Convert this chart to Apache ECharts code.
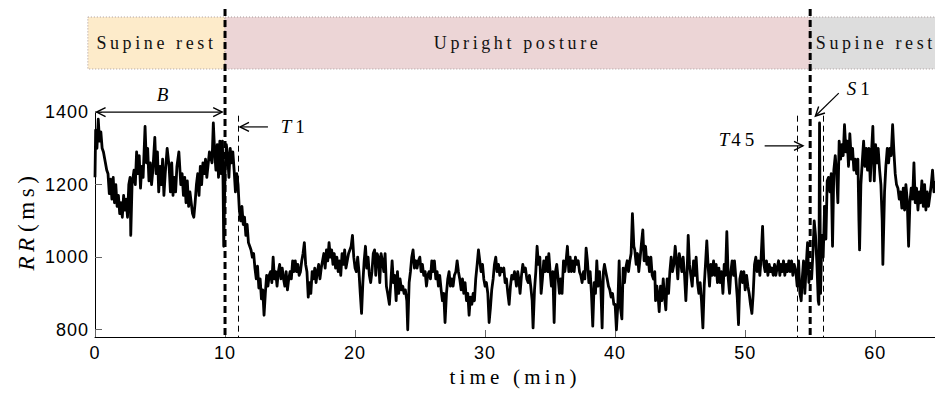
<!DOCTYPE html>
<html lang="en">
<head>
<meta charset="UTF-8">
<title>RR intervals - tilt test</title>
<style>
    html, body { margin: 0; padding: 0; background: #fff; }
    #main { width: 935px; height: 394px; }
    /* the LaTeX figure has wide letter spacing on every text */
    #main text[style*="Liberation Serif"] { letter-spacing: 0.2em; }
    #main text[style*="Liberation Sans"] { letter-spacing: 1px; }
</style>
</head>
<body>
<div id="main"></div>
<script src="https://cdn.jsdelivr.net/npm/echarts@6/dist/echarts.min.js"></script>
<script type="text/javascript">
// RR series: time (min) and RR (ms), same row layout in both arrays
var timeMin = [
    // supine rest
    0, 0.05, 0.15, 0.25, 0.35, 0.45, 0.55, 0.65, 0.8, 0.9,
    1.0, 1.1, 1.2, 1.3, 1.4, 1.5, 1.6, 1.7, 1.8, 1.9,
    2.0, 2.1, 2.2, 2.3, 2.4, 2.5, 2.6, 2.7, 2.75, 2.85,
    3.0, 3.1, 3.2, 3.3, 3.4, 3.5, 3.6, 3.7, 3.85, 3.95,
    4.05, 4.15, 4.25, 4.35, 4.45, 4.6, 4.7, 4.8, 4.9, 5.0,
    5.1, 5.2, 5.3, 5.4, 5.55, 5.7, 5.8, 5.9, 6.0, 6.1,
    6.2, 6.3, 6.45, 6.6, 6.7, 6.8, 6.9, 7.0, 7.1, 7.2,
    7.3, 7.4, 7.5, 7.6, 7.7, 7.8, 7.9, 8.0, 8.1, 8.2,
    8.3, 8.4, 8.5, 8.6, 8.8, 9.0, 9.1, 9.2, 9.3, 9.4,
    9.5, 9.6, 9.7, 9.8, 9.85, 9.9, 10.0, 10.1, 10.2, 10.3,
    10.4, 10.5, 10.6, 10.7, 10.8, 10.9,
    // upright
    11.0, 11.1, 11.2, 11.3, 11.4, 11.5, 11.6, 11.7, 11.8, 11.9,
    12.0, 12.1, 12.2, 12.3, 12.4, 12.5, 12.6, 12.7, 12.8, 12.9,
    13.0, 13.1, 13.2, 13.3, 13.4, 13.5, 13.6, 13.7, 13.8, 13.9,
    14.0, 14.1, 14.2, 14.3, 14.4, 14.5, 14.6, 14.7, 14.8, 14.9,
    15.0, 15.1, 15.2, 15.3, 15.4, 15.5, 15.6, 15.7, 15.8, 15.9,
    16.0, 16.1, 16.2, 16.3, 16.4, 16.5, 16.6, 16.7, 16.8, 16.9,
    17.0, 17.1, 17.2, 17.3, 17.4, 17.5, 17.6, 17.7, 17.8, 17.9,
    18.0, 18.1, 18.2, 18.3, 18.4, 18.5, 18.6, 18.7, 18.8, 18.9,
    19.0, 19.1, 19.2, 19.3, 19.4, 19.5, 19.6, 19.7, 19.8, 19.9,
    20.0, 20.1, 20.2, 20.3, 20.4, 20.5, 20.6, 20.7, 20.8, 20.9,
    21.0, 21.1, 21.2, 21.3, 21.4, 21.5,
    21.54, 21.59, 21.69, 21.80, 21.90, 22.00, 22.10, 22.21, 22.31, 22.41,
    22.51, 22.64, 22.75, 22.85, 22.95, 23.05, 23.16, 23.26, 23.36, 23.46,
    23.57, 23.67, 23.77, 23.87, 23.98, 24.05, 24.16, 24.26, 24.36, 24.46,
    24.57, 24.67, 24.77, 24.87, 24.98, 25.08, 25.18, 25.28, 25.39, 25.49,
    25.59, 25.69, 25.80, 25.90, 26.00, 26.10, 26.21, 26.31, 26.41, 26.51,
    26.62, 26.72, 26.82, 26.92, 27.03, 27.13, 27.23, 27.33, 27.44, 27.54,
    27.64, 27.75, 27.85, 27.95, 28.05, 28.16, 28.26, 28.36, 28.46, 28.57,
    28.67, 28.77, 28.87, 28.98, 29.08, 29.18, 29.28, 29.39, 29.49, 29.59,
    29.69, 29.80, 29.90, 30.00, 30.10, 30.21, 30.31, 30.41, 30.51, 30.62,
    30.72, 30.82, 30.92, 31.03, 31.13, 31.23, 31.33, 31.44, 31.54, 31.64,
    31.75, 31.85, 31.95, 32.05, 32.16, 32.26,
    32.31, 32.41, 32.51, 32.59, 32.69, 32.80, 32.90, 33.00, 33.10, 33.21,
    33.31, 33.41, 33.51, 33.62, 33.69, 33.80, 33.90, 34.00, 34.10, 34.21,
    34.31, 34.41, 34.51, 34.62, 34.72, 34.82, 34.90, 35.00, 35.10, 35.21,
    35.31, 35.41, 35.51, 35.62, 35.72, 35.82, 35.92, 36.03, 36.13, 36.23,
    36.33, 36.44, 36.54, 36.64, 36.75, 36.85, 36.95, 37.05, 37.16, 37.26,
    37.36, 37.46, 37.57, 37.67, 37.77, 37.87, 37.98, 38.08, 38.18, 38.28,
    38.39, 38.49, 38.59, 38.69, 38.80, 38.90, 39.00, 39.10, 39.18, 39.28,
    39.39, 39.49, 39.59, 39.69, 39.80, 39.90, 40.00, 40.10, 40.21, 40.31,
    40.41, 40.52, 40.62, 40.72, 40.82, 40.93, 41.03, 41.13, 41.23, 41.33,
    41.44, 41.51, 41.62, 41.72, 41.82, 41.93, 42.03, 42.13, 42.23, 42.34,
    42.44, 42.54, 42.64, 42.75, 42.85, 42.95, 43.05,
    43.11, 43.21, 43.31, 43.39, 43.49, 43.59, 43.70, 43.80, 43.90, 44.00,
    44.11, 44.21, 44.31, 44.41, 44.52, 44.62, 44.72, 44.82, 44.93, 45.03,
    45.13, 45.23, 45.34, 45.44, 45.54, 45.62, 45.72, 45.82, 45.93, 46.03,
    46.13, 46.23, 46.34, 46.44, 46.54, 46.64, 46.75, 46.85, 46.95, 47.05,
    47.16, 47.26, 47.36, 47.46, 47.57, 47.67, 47.77, 47.87, 47.98, 48.08,
    48.18, 48.29, 48.39, 48.49, 48.59, 48.70, 48.80, 48.90, 49.00, 49.11,
    49.18, 49.29, 49.39, 49.49, 49.59, 49.70, 49.80, 49.90, 50.00, 50.11,
    50.21, 50.31, 50.41, 50.52, 50.62, 50.72, 50.82, 50.92, 51.03, 51.13,
    51.23, 51.34, 51.44, 51.54, 51.64, 51.75, 51.85, 51.95, 52.05, 52.16,
    52.26, 52.36, 52.46, 52.57, 52.67, 52.75, 52.85, 52.95, 53.05, 53.16,
    53.26, 53.36, 53.46, 53.57, 53.67, 53.77,
    53.90, 54.00, 54.11, 54.21, 54.31, 54.39, 54.49, 54.59, 54.70, 54.80,
    54.90, 55.00, 55.11, 55.21, 55.31, 55.41, 55.52, 55.62, 55.67, 55.72,
    // supine again
    55.80, 55.90, 56.00, 56.11, 56.21, 56.31, 56.41, 56.52, 56.62, 56.72,
    56.82, 56.93, 57.03, 57.13, 57.23, 57.34, 57.44, 57.54, 57.64, 57.75,
    57.85, 57.95, 58.05, 58.16, 58.26, 58.36, 58.47, 58.57, 58.67, 58.75,
    58.80, 58.90, 59.00, 59.11, 59.21, 59.31, 59.41, 59.52, 59.62, 59.72,
    59.82, 59.93, 60.03, 60.13, 60.23, 60.34, 60.44, 60.54, 60.59, 60.72,
    60.82, 60.93, 61.03, 61.13, 61.23, 61.34, 61.44, 61.54, 61.64, 61.75,
    61.85, 61.95, 62.05, 62.16, 62.26, 62.36, 62.46, 62.57, 62.67, 62.77,
    62.88, 62.98, 63.08, 63.18, 63.29, 63.39, 63.49, 63.59, 63.70, 63.80,
    63.90, 64.00, 64.10, 64.21, 64.31, 64.41, 64.52, 64.62
];
var rrMs = [
    1220, 1350, 1300, 1380, 1320, 1345, 1300, 1290, 1260, 1240,
    1230, 1175, 1215, 1160, 1220, 1150, 1200, 1140, 1170, 1120,
    1150, 1110, 1170, 1130, 1160, 1110, 1200, 1220, 1060, 1200,
    1240, 1200, 1290, 1230, 1280, 1190, 1250, 1220, 1360, 1260,
    1300, 1210, 1260, 1200, 1240, 1330, 1230, 1290, 1180, 1250,
    1200, 1270, 1170, 1230, 1300, 1250, 1180, 1260, 1170, 1220,
    1180, 1250, 1290, 1200, 1230, 1170, 1220, 1150, 1210, 1140,
    1180, 1150, 1120, 1110, 1150, 1200, 1230, 1170, 1250, 1200,
    1260, 1230, 1270, 1220, 1290, 1260, 1370, 1290, 1240, 1310,
    1220, 1320, 1230, 1320, 1200, 1030, 1230, 1310, 1280, 1220,
    1300, 1260, 1290, 1240, 1180, 1230,
    1200, 1130, 1100, 1140, 1090, 1110, 1060, 1090, 1040, 1030,
    1020, 1000, 1010, 970, 940, 975, 915, 940, 885, 910,
    840, 900, 950, 920, 950, 960, 930, 1000, 940, 960,
    920, 960, 980, 940, 970, 940, 920, 960, 910, 940,
    960, 940, 990, 960, 990, 960, 980, 950, 960, 990,
    1010, 1040, 980, 960, 890, 930, 900, 960, 940, 970,
    930, 960, 980, 940, 970, 990, 1010, 970, 1020, 990,
    1040, 1000, 1020, 980, 1010, 970, 1000, 960, 990, 950,
    1010, 980, 1020, 970, 990, 1010, 1020, 1030, 1060, 1000,
    970, 960, 1000, 960, 900, 845, 930, 990, 1030, 970,
    1000, 950, 930, 960, 1010, 1020,
    1000, 950, 1010, 1000, 930, 1010, 990, 960, 1010, 920,
    900, 870, 930, 990, 930, 950, 880, 960, 900, 940,
    910, 920, 900, 910, 880, 800, 930, 960, 1000, 1020,
    970, 990, 970, 990, 1000, 960, 980, 950, 960, 920,
    950, 960, 940, 990, 960, 990, 940, 960, 920, 950,
    910, 880, 900, 820, 900, 940, 960, 920, 940, 920,
    950, 960, 990, 960, 940, 910, 940, 900, 930, 880,
    900, 840, 890, 870, 900, 880, 940, 980, 1020, 990,
    960, 980, 940, 920, 930, 900, 820, 860, 910, 940,
    980, 1000, 960, 980, 950, 970, 960, 970, 930, 940,
    900, 870, 920, 950, 940, 960,
    950, 920, 960, 940, 900, 950, 980, 960, 970, 940,
    930, 950, 920, 880, 805, 910, 960, 1030, 980, 1000,
    900, 940, 990, 960, 1000, 960, 1010, 960, 920, 960,
    820, 960, 980, 940, 900, 940, 900, 990, 960, 990,
    1030, 960, 1000, 960, 990, 960, 1000, 980, 990, 960,
    950, 930, 960, 940, 1025, 990, 930, 960, 900, 810,
    930, 900, 990, 920, 960, 920, 805, 960, 980, 960,
    940, 920, 910, 890, 900, 870, 870, 800, 870, 990,
    860, 830, 970, 930, 970, 990, 960, 990, 1010, 1120,
    1030, 1020, 980, 1010, 960, 1000, 1040, 1075, 990, 1030,
    980, 1000, 960, 1000, 950, 940, 960,
    880, 920, 890, 850, 920, 880, 940, 890, 855, 940,
    900, 960, 1000, 960, 980, 1030, 990, 940, 1010, 990,
    960, 1000, 950, 880, 960, 1060, 980, 950, 920, 990,
    950, 1000, 930, 900, 930, 880, 805, 920, 980, 1045,
    970, 920, 980, 950, 990, 950, 980, 930, 970, 930,
    960, 900, 980, 950, 1070, 940, 900, 960, 990, 950,
    990, 940, 890, 814, 940, 960, 930, 960, 910, 950,
    920, 900, 870, 845, 900, 980, 1000, 960, 990, 950,
    1000, 1085, 980, 960, 990, 950, 980, 960, 970, 950,
    980, 950, 970, 990, 950, 980, 960, 990, 950, 980,
    960, 990, 960, 990, 950, 980,
    960, 920, 990, 900, 880, 940, 990, 900, 980, 1040,
    930, 960, 940, 1010, 1100, 1060, 980, 880, 870, 1370,
    900, 1060, 1000, 1140, 1050, 1210, 1220, 1180, 1230, 1030,
    1240, 1280, 1230, 1150, 1320, 1270, 1310, 1280, 1365, 1290,
    1320, 1250, 1340, 1270, 1300, 1240, 1270, 1230, 1270, 1100,
    1020, 1200, 1260, 1320, 1250, 1300, 1240, 1300, 1210, 1290,
    1360, 1210, 1310, 1260, 1300, 1240, 1200, 1100, 980, 1180,
    1250, 1300, 1260, 1300, 1280, 1365, 1290, 1230, 1200, 1190,
    1160, 1180, 1135, 1190, 1130, 1200, 1160, 1030, 1150, 1190,
    1160, 1260, 1150, 1190, 1130, 1180, 1150, 1210, 1140, 1200,
    1130, 1180, 1140, 1170, 1200, 1240, 1180, 1210
];

var xTicks = [0, 10, 20, 30, 40, 50, 60];
var yTicks = [800, 1000, 1200, 1400];

// protocol phases drawn as the band above the plot
var phaseNames = ['Supine rest', 'Upright posture', 'Supine rest'];
var phaseStart = [-0.55, 10, 55];
var phaseEnd = [10, 55, 65.1];
var phaseColors = ['#fdebca', '#ecd5d6', '#dddddd'];

var switchTimes = [10, 55];          // thick dashed: posture change
var markerTimes = [11, 54, 56];      // thin dashed: T1, T45, S1
var markerTop = 1390;

// arrows + their labels (B is the double headed baseline span)
var arrowNames = ['B', 'T1', 'T45', 'S1'];
var arrowFrom = [[0.12, 1400], [13.3, 1359], [51.5, 1307], [57.2, 1452]];
var arrowTo = [[9.78, 1400], [11.15, 1359], [54.45, 1307], [55.4, 1389]];
var labelAt = [[5.5, 1449], [15.35, 1359], [49.4, 1323], [58.85, 1465]];

var SERIF = 'Liberation Serif';
var SANS = 'Liberation Sans';

function mathText(name) {
    // first letter italic like LaTeX math, digits upright
    return '{i|' + name.charAt(0) + '}' + name.slice(1);
}

function arrowHead(tip, tail, len, half) {
    var dx = tip[0] - tail[0], dy = tip[1] - tail[1];
    var d = Math.sqrt(dx * dx + dy * dy);
    dx /= d; dy /= d;
    var bx = tip[0] - dx * len, by = tip[1] - dy * len;
    return [[bx - dy * half, by + dx * half], tip, [bx + dy * half, by - dx * half]];
}

function crisp(x) {
    return Math.round(x) + 0.5;
}

var rrData = timeMin.map(function (t, i) { return [t, rrMs[i]]; });

var myChart = echarts.init(document.getElementById('main'), null, {renderer: 'svg'});

var option = {
    animation: false,
    backgroundColor: '#fff',
    grid: [
        {left: 95, right: 0, top: 112, bottom: 57},     // RR plot
        {left: 95, right: 0, top: 17, height: 52},      // phase band
        {left: 95, right: 0, top: 9, bottom: 57}        // overlay for dashed lines / arrows
    ],
    xAxis: [
        {
            gridIndex: 0, type: 'value', min: 0, max: 64.6,
            axisLine: {onZero: false, lineStyle: {color: '#000', width: 1}},
            axisTick: {inside: true, length: 7, customValues: xTicks, lineStyle: {color: '#666'}},
            axisLabel: {
                customValues: xTicks, color: '#000', fontFamily: SANS, fontSize: 18, margin: 7,
                formatter: function (v) { return String(v); }
            },
            splitLine: {show: false},
            name: 'time (min)', nameLocation: 'middle', nameGap: 27,
            nameTextStyle: {fontFamily: SERIF, fontSize: 21, color: '#000'}
        },
        {gridIndex: 1, type: 'value', min: 0, max: 64.6, show: false},
        {gridIndex: 2, type: 'value', min: 0, max: 64.6, show: false}
    ],
    yAxis: [
        {
            gridIndex: 0, type: 'value', min: 780, max: 1400,
            axisLine: {show: true, onZero: false, lineStyle: {color: '#000', width: 1}},
            axisTick: {show: true, inside: true, length: 7, customValues: yTicks, lineStyle: {color: '#666'}},
            axisLabel: {
                customValues: yTicks, color: '#000', fontFamily: SANS, fontSize: 18, margin: 6,
                formatter: function (v) { return String(v); }
            },
            splitLine: {show: false},
            name: '{i|RR} (ms)', nameLocation: 'middle', nameGap: 57, nameRotate: 90,
            nameTextStyle: {
                fontFamily: SERIF, fontSize: 23, color: '#000',
                rich: {i: {fontFamily: SERIF, fontSize: 23, fontStyle: 'italic', color: '#000', padding: [0, 7, 0, 0]}}
            }
        },
        {gridIndex: 1, type: 'value', min: 0, max: 1, show: false},
        {gridIndex: 2, type: 'value', min: 780, max: 1684, show: false}
    ],
    series: [
        {
            name: 'phases',
            type: 'custom',
            xAxisIndex: 1, yAxisIndex: 1,
            z: 1,
            silent: true,
            data: phaseStart.map(function (s, i) { return [s, phaseEnd[i], i]; }),
            renderItem: function (params, api) {
                var i = api.value(2);
                var p0 = api.coord([api.value(0), 1]);
                var p1 = api.coord([api.value(1), 0]);
                return {
                    type: 'group',
                    children: [{
                        type: 'rect',
                        shape: {x: p0[0], y: p0[1], width: p1[0] - p0[0], height: p1[1] - p0[1]},
                        style: {fill: phaseColors[i], stroke: '#a89a9a', lineWidth: 1, lineDash: [1, 2]}
                    }, {
                        type: 'text',
                        style: {
                            text: phaseNames[i],
                            x: (p0[0] + p1[0]) / 2, y: (p0[1] + p1[1]) / 2,
                            align: 'center', verticalAlign: 'middle',
                            fontFamily: SERIF, fontSize: 18, fill: '#111'
                        }
                    }]
                };
            }
        },
        {
            name: 'RR',
            type: 'line',
            xAxisIndex: 0, yAxisIndex: 0,
            z: 2,
            showSymbol: false,
            silent: true,
            data: rrData,
            lineStyle: {color: '#000', width: 2.8, join: 'round'}
        },
        {
            name: 'posture changes',
            type: 'custom',
            xAxisIndex: 2, yAxisIndex: 2,
            z: 3,
            silent: true,
            data: switchTimes.map(function (t) { return [t]; }),
            renderItem: function (params, api) {
                var x = api.coord([api.value(0), 780])[0];
                var cs = params.coordSys;
                return {
                    type: 'line',
                    shape: {x1: x, y1: cs.y, x2: x, y2: cs.y + cs.height},
                    style: {stroke: '#000', lineWidth: 3, lineDash: [7, 4]}
                };
            }
        },
        {
            name: 'markers',
            type: 'custom',
            xAxisIndex: 2, yAxisIndex: 2,
            z: 3,
            silent: true,
            data: markerTimes.map(function (t) { return [t, markerTop]; }),
            renderItem: function (params, api) {
                var top = api.coord([api.value(0), api.value(1)]);
                var bottom = api.coord([api.value(0), 780]);
                var x = crisp(top[0]);
                return {
                    type: 'line',
                    shape: {x1: x, y1: top[1], x2: x, y2: bottom[1]},
                    style: {stroke: '#000', lineWidth: 1, lineDash: [6, 4]}
                };
            }
        },
        {
            name: 'arrows',
            type: 'custom',
            xAxisIndex: 2, yAxisIndex: 2,
            z: 4,
            silent: true,
            data: arrowNames.map(function (n, i) { return [i]; }),
            renderItem: function (params, api) {
                var i = api.value(0);
                var a = api.coord(arrowFrom[i]);
                var b = api.coord(arrowTo[i]);
                var lab = api.coord(labelAt[i]);
                var kids = [{
                    type: 'line',
                    shape: {x1: a[0], y1: a[1], x2: b[0], y2: b[1]},
                    style: {stroke: '#000', lineWidth: 1.2}
                }, {
                    type: 'polyline',
                    shape: {points: arrowHead(b, a, 9, 4.5)},
                    style: {stroke: '#000', fill: null, lineWidth: 1.4}
                }];
                if (i === 0) {
                    kids.push({
                        type: 'polyline',
                        shape: {points: arrowHead(a, b, 9, 4.5)},
                        style: {stroke: '#000', fill: null, lineWidth: 1.4}
                    });
                }
                kids.push({
                    type: 'text',
                    style: {
                        text: mathText(arrowNames[i]),
                        x: lab[0], y: lab[1],
                        align: 'center', verticalAlign: 'middle',
                        fontFamily: SERIF, fontSize: 19, fill: '#000',
                        rich: {i: {fontFamily: SERIF, fontSize: 19, fontStyle: 'italic', fill: '#000', padding: [0, 4, 0, 0]}}
                    }
                });
                return {type: 'group', children: kids};
            }
        }
    ]
};

myChart.setOption(option);
</script>
</body>
</html>
